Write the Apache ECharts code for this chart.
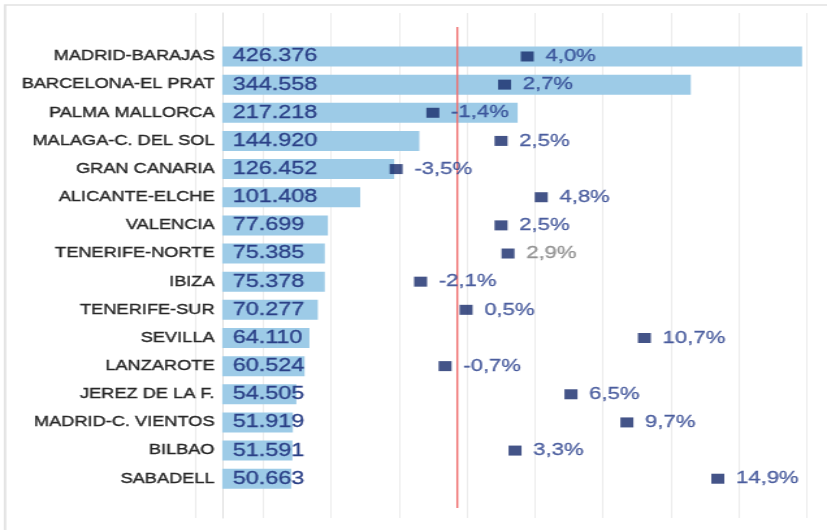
<!DOCTYPE html>
<html>
<head>
<meta charset="utf-8">
<script src="https://cdn.jsdelivr.net/npm/echarts@6/dist/echarts.min.js"></script>
<style>
  html, body { margin: 0; padding: 0; background: #fff; }
  #wrap { width: 827px; height: 530px; overflow: hidden; }
  /* the chart is laid out narrow and stretched sideways to the final width */
  #chart { width: 636px; height: 530px; transform: scaleX(1.30031); transform-origin: 0 0; }
</style>
</head>
<body>
<div id="wrap"><div id="chart"></div></div>
<script>
// Airports, passengers and year-on-year change
const airports = [
  'MADRID-BARAJAS', 'BARCELONA-EL PRAT', 'PALMA MALLORCA', 'MALAGA-C. DEL SOL',
  'GRAN CANARIA', 'ALICANTE-ELCHE', 'VALENCIA', 'TENERIFE-NORTE',
  'IBIZA', 'TENERIFE-SUR', 'SEVILLA', 'LANZAROTE',
  'JEREZ DE LA F.', 'MADRID-C. VIENTOS', 'BILBAO', 'SABADELL'
];
const passengers = [
  426376, 344558, 217218, 144920,
  126452, 101408, 77699, 75385,
  75378, 70277, 64110, 60524,
  54505, 51919, 51591, 50663
];
const changePct = [
  4.0, 2.7, -1.4, 2.5,
  -3.5, 4.8, 2.5, 2.9,
  -2.1, 0.5, 10.7, -0.7,
  6.5, 9.7, 3.3, 14.9
];
// axis ranges
const passengerRange = [-20000, 430000];
const pctRange = [-15, 20];

const FONT = '"Liberation Sans", Arial, sans-serif';
const fmtThousands = v => String(v).replace(/\B(?=(\d{3})+(?!\d))/g, '.');
const fmtPct = v => v.toFixed(1).replace('.', ',') + '%';
const greyLabelRows = new Set(['TENERIFE-NORTE']);

const L = 150, R = 15.4;
// category names sit just left of the passenger zero line, which lies ~21px inside the plot
const NAME_GAP = 6, ZERO_OFFSET = 21;
const hidden = { axisLabel: { show: false }, axisTick: { show: false }, axisLine: { show: false }, splitLine: { show: false } };

const chart = echarts.init(document.getElementById('chart'));
chart.setOption({
  animation: false,
  backgroundColor: '#ffffff',
  graphic: [{
    type: 'rect', silent: true, z: -10,
    shape: { x: 3.9, y: 5, width: 800, height: 700 },
    style: { fill: 'none', stroke: '#e2e2e2', lineWidth: 1.7 }
  }],
  grid: [
    { left: L, right: R, top: 13, bottom: 12, outerBoundsMode: 'none' },      // gridlines
    { left: L, right: R, top: 42.4, bottom: 37.2, outerBoundsMode: 'none' },  // bars and markers
    { left: L, right: R, top: 27, bottom: 22, outerBoundsMode: 'none' }       // zero line of the change axis
  ],
  xAxis: [
    Object.assign({ type: 'value', gridIndex: 0, min: 0, max: 9, interval: 1 }, hidden,
      { splitLine: { show: true, lineStyle: { color: '#ececec', width: 1 } } }),
    Object.assign({ type: 'value', gridIndex: 0, min: passengerRange[0], max: passengerRange[1] }, hidden),
    Object.assign({ type: 'value', gridIndex: 1, min: passengerRange[0], max: passengerRange[1] }, hidden),
    Object.assign({ type: 'value', gridIndex: 1, min: pctRange[0], max: pctRange[1] }, hidden),
    Object.assign({ type: 'value', gridIndex: 2, min: pctRange[0], max: pctRange[1] }, hidden)
  ],
  yAxis: [
    Object.assign({ type: 'value', gridIndex: 0, min: 0, max: 1 }, hidden, {
      axisLine: { show: true, onZero: true, onZeroAxisIndex: 1, lineStyle: { color: '#dedede', width: 1 } }
    }),
    {
      type: 'category', gridIndex: 1, inverse: true, data: airports,
      axisLine: { show: false, onZero: false },
      axisTick: { show: false },
      splitLine: { show: false },
      axisLabel: {
        color: '#262626', fontSize: 14, fontFamily: FONT, margin: NAME_GAP - ZERO_OFFSET,
        textBorderColor: '#262626', textBorderWidth: 0.35
      }
    },
    Object.assign({ type: 'value', gridIndex: 2, min: 0, max: 1 }, hidden)
  ],
  series: [
    {
      name: 'Pasajeros',
      type: 'bar',
      xAxisIndex: 2, yAxisIndex: 1,
      data: passengers,
      barWidth: 20,
      itemStyle: { color: '#9dcbe7' },
      z: 2,
      label: {
        show: true, position: 'insideLeft', distance: 8,
        color: '#2a3f86', fontSize: 18, fontFamily: FONT,
        textBorderColor: '#2a3f86', textBorderWidth: 0.3,
        formatter: p => fmtThousands(p.value)
      }
    },
    {
      name: 'Cero',
      type: 'line',
      xAxisIndex: 4, yAxisIndex: 2,
      data: [[0, 0], [0, 1]],
      symbol: 'none',
      lineStyle: { color: '#ef6f6f', width: 1.4 },
      z: 3,
      silent: true
    },
    {
      name: 'Variación',
      type: 'scatter',
      xAxisIndex: 3, yAxisIndex: 1,
      data: changePct.map((v, i) => {
        const item = { value: [v, airports[i]] };
        if (greyLabelRows.has(airports[i])) item.label = { color: '#7f7f7f', textBorderColor: '#7f7f7f' };
        return item;
      }),
      symbol: 'rect',
      symbolSize: [10, 10],
      itemStyle: { color: '#15296a' },
      z: 4,
      label: {
        show: true, position: 'right', distance: 9,
        color: '#283f8c', fontSize: 17, fontFamily: FONT,
        textBorderColor: '#283f8c', textBorderWidth: 0.3,
        formatter: p => fmtPct(p.value[0])
      }
    }
  ]
});
</script>
</body>
</html>
